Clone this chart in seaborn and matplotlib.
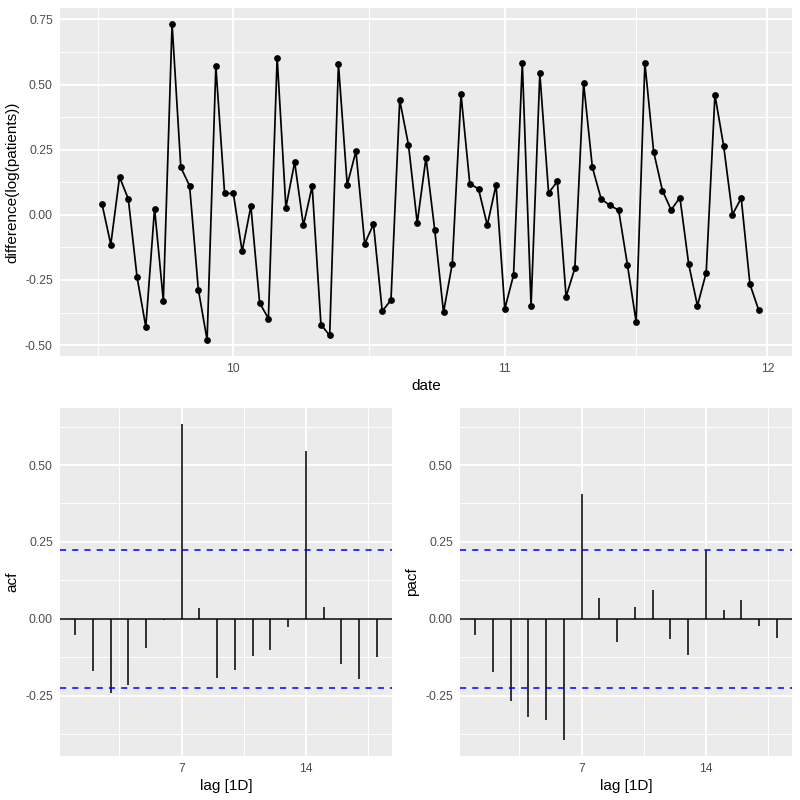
import numpy as np
import pandas as pd
import matplotlib
matplotlib.use("Agg")
import matplotlib.pyplot as plt
import matplotlib.dates as mdates
import seaborn as sns

# ---------------- data ----------------
start_date = "2020-09-15"
end_date = "2020-11-30"
diff_values = [np.nan,
    0.041, -0.114, 0.145, 0.061, -0.239, -0.430, 0.024, -0.329, 0.733, 0.182,
    0.111, -0.287, -0.480, 0.570, 0.082, 0.082, -0.140, 0.033, -0.338, -0.398,
    0.603, 0.028, 0.202, -0.041, 0.110, -0.421, -0.463, 0.579, 0.115, 0.244,
    -0.111, -0.036, -0.370, -0.327, 0.440, 0.268, -0.031, 0.219, -0.059, -0.374,
    -0.188, 0.462, 0.120, 0.099, -0.040, 0.115, -0.361, -0.231, 0.584, -0.351,
    0.543, 0.084, 0.128, -0.314, -0.205, 0.506, 0.182, 0.061, 0.036, 0.018,
    -0.191, -0.411, 0.582, 0.242, 0.093, 0.019, 0.066, -0.189, -0.349, -0.222,
    0.460, 0.263, 0.001, 0.064, -0.267, -0.366]

lags = list(range(1, 19))
acf_values = [-0.052, -0.169, -0.240, -0.214, -0.096, -0.004, 0.634, 0.035, -0.193,
              -0.168, -0.121, -0.101, -0.026, 0.544, 0.039, -0.148, -0.195, -0.126]
pacf_values = [-0.052, -0.172, -0.269, -0.319, -0.329, -0.395, 0.407, 0.066, -0.076,
               0.038, 0.093, -0.067, -0.118, 0.223, 0.028, 0.061, -0.022, -0.063]
ci_level = 0.2248

month_ticks = ["2020-10-01", "2020-11-01", "2020-12-01"]
month_labels = ["10", "11", "12"]

# ---------------- style ----------------
sns.set_theme(style="darkgrid")
plt.rcParams["font.family"] = ["Liberation Sans", "DejaVu Sans"]
PANEL = "#EBEBEB"
TICKC = "#4D4D4D"

def style_ax(ax):
    ax.set_facecolor(PANEL)
    for s in ax.spines.values():
        s.set_visible(False)
    ax.grid(which="major", color="white", linewidth=1.4)
    ax.grid(which="minor", color="white", linewidth=0.7)
    ax.set_axisbelow(True)
    ax.tick_params(which="major", length=3.2, width=0.8, color="#333333",
                   labelsize=8.8, labelcolor=TICKC, pad=2)
    ax.tick_params(which="minor", length=0)

fig = plt.figure(figsize=(8, 8), dpi=100)
fig.patch.set_facecolor("white")

# ---------------- top: time series ----------------
ax1 = fig.add_axes([0.075, 0.5554, 0.915, 0.4346])
style_ax(ax1)
df = pd.DataFrame({"date": pd.date_range(start_date, end_date, freq="D"),
                   "value": diff_values})
sns.lineplot(data=df.dropna(), x="date", y="value", color="black", linewidth=1.25, ax=ax1)
sns.scatterplot(data=df.dropna(), x="date", y="value", color="black", s=24,
                edgecolor="black", linewidth=0, ax=ax1, zorder=3)

xnum = mdates.date2num(df["date"])
xr = xnum.max() - xnum.min()
ax1.set_xlim(xnum.min() - 0.05 * xr, xnum.max() + 0.05 * xr)
vals = df["value"].dropna()
yr = vals.max() - vals.min()
ax1.set_ylim(vals.min() - 0.05 * yr, vals.max() + 0.05 * yr)

mt = mdates.date2num(pd.to_datetime(month_ticks))
ax1.set_xticks(mt)
ax1.set_xticklabels(month_labels)
step = mt[1] - mt[0]
ax1.set_xticks([mt[0] - step / 2, (mt[0] + mt[1]) / 2, (mt[1] + mt[2]) / 2], minor=True)
yt = [-0.5, -0.25, 0.0, 0.25, 0.5, 0.75]
ax1.set_yticks(yt)
ax1.set_yticklabels([f"{v:.2f}" for v in yt])
ax1.set_yticks([-0.375, -0.125, 0.125, 0.375, 0.625], minor=True)
ax1.set_xlabel("date", fontsize=11, color="black", labelpad=3)
ax1.set_ylabel("difference(log(patients))", fontsize=11, color="black", labelpad=4)

# ---------------- bottom: acf / pacf ----------------
allv = acf_values + pacf_values
lo, hi = min(allv), max(allv)
ry = hi - lo
ylims = (lo - 0.05 * ry, hi + 0.05 * ry)
rx = max(lags) - min(lags)
xlims = (min(lags) - 0.05 * rx, max(lags) + 0.05 * rx)

def corr_panel(rect, values, ylabel):
    ax = fig.add_axes(rect)
    style_ax(ax)
    ax.vlines(lags, 0, values, color="black", linewidth=1.1, zorder=3)
    ax.axhline(0, color="black", linewidth=1.1, zorder=3)
    for c in (ci_level, -ci_level):
        ax.axhline(c, color="blue", linewidth=1.1, linestyle=(0, (4, 4)), zorder=3)
    ax.set_xlim(*xlims)
    ax.set_ylim(*ylims)
    ax.set_xticks([7, 14])
    ax.set_xticklabels(["7", "14"])
    ax.set_xticks([3.5, 10.5, 17.5], minor=True)
    yt2 = [-0.25, 0.0, 0.25, 0.5]
    ax.set_yticks(yt2)
    ax.set_yticklabels([f"{v:.2f}" for v in yt2])
    ax.set_yticks([-0.375, -0.125, 0.125, 0.375, 0.625], minor=True)
    ax.set_xlabel("lag [1D]", fontsize=11, color="black", labelpad=3)
    ax.set_ylabel(ylabel, fontsize=11, color="black", labelpad=4)
    return ax

corr_panel([0.075, 0.055, 0.415, 0.435], acf_values, "acf")
corr_panel([0.575, 0.055, 0.415, 0.435], pacf_values, "pacf")

fig.savefig("out.png", dpi=100, facecolor="white")
